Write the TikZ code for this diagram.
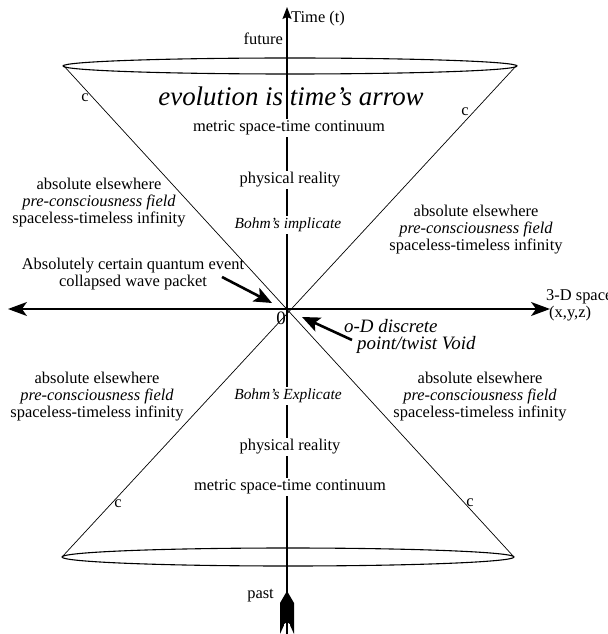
\documentclass[tikz,border=0pt]{standalone}
\usepackage{fontspec}
\setmainfont{Liberation Serif}
\usetikzlibrary{arrows.meta}

\begin{document}
\begin{tikzpicture}[x=1bp, y=-1bp, line join=round,
  every node/.style={inner sep=1pt},
  body/.style={font=\fontsize{16.5}{17}\selectfont},
  gap/.style={fill=white, inner sep=2pt},
  bohm/.style={font=\fontsize{15.5}{17}\selectfont\itshape},
  zone/.style={align=center, font=\fontsize{16.5}{17}\selectfont},
  voidtxt/.style={font=\fontsize{19}{19}\selectfont\itshape, anchor=west, inner sep=0pt},
  pointer/.style={line width=2.6pt, -{Stealth[length=18pt, width=15pt, inset=4pt]}},
  axis/.style={line width=1.6pt},
  cone/.style={line width=0.7pt},
  rim/.style={line width=1.1pt}]
  \useasboundingbox (0,0) rectangle (608,634);

  % Origin and axis ends
  \coordinate (o) at (287,309);
  \coordinate (tTop) at (287,7);
  \coordinate (tBot) at (287,634);
  \coordinate (xL) at (8,309);
  \coordinate (xR) at (550,309);

  % Light cone
  \coordinate (ul) at (63,65);
  \coordinate (ur) at (517,65);
  \coordinate (ll) at (62,557);
  \coordinate (lr) at (514,557);
  \draw[cone] (ul) -- (lr);
  \draw[cone] (ur) -- (ll);
  \draw[rim] (290,66) ellipse [x radius=227, y radius=8];
  \draw[rim] (288,557) ellipse [x radius=226, y radius=9];

  % Axes
  \draw[axis, -{Stealth[length=12pt, width=9pt, inset=2pt]}] (tBot) -- (tTop);
  \draw[axis, {Stealth[length=19pt, width=14pt, inset=5pt]}-{Stealth[length=19pt, width=14pt, inset=5pt]}] (xL) -- (xR);
  % fletching at the foot of the time axis
  \fill (287,591) -- (294,603) -- (294,634) -- (289,623) -- (285,623)
    -- (280,634) -- (280,603) -- cycle;
  \draw[white, line width=0.6pt] (284.5,624) -- (284.5,634) (289.5,624) -- (289.5,634);

  % Axis labels
  \node[body, anchor=west] (time) at (290,19) {Time (t)};
  \node[body, anchor=east] (future) at (284,39) {future};
  \node[body, anchor=east] (past) at (275,596) {past};
  \node[body, anchor=west] (space) at (545,297) {3-D space};
  \node[body, anchor=west] (xyz) at (548,314) {(x,y,z)};
  \node[font=\fontsize{19}{20}\selectfont] (zero) at (281,318) {0};

  % Inside the cone
  \node[font=\fontsize{27}{28}\selectfont\itshape] (evol) at (291,96) {evolution is time's arrow};
  \node[body, gap] (metricU) at (289,128) {metric space-time continuum};
  \node[body, gap] (physU) at (290,180) {physical reality};
  \node[bohm, gap] (implicate) at (288,225) {Bohm's implicate};
  \node[bohm, gap] (explicate) at (288,396) {Bohm's Explicate};
  \node[body, gap] (physL) at (290,447) {physical reality};
  \node[body, gap] (metricL) at (290,487) {metric space-time continuum};

  % Absolute elsewhere
  \node[zone] (elseUL) at (99,203) {absolute elsewhere\\\textit{pre-consciousness field}\\spaceless-timeless infinity};
  \node[zone] (elseUR) at (476,230) {absolute elsewhere\\\textit{pre-consciousness field}\\spaceless-timeless infinity};
  \node[zone] (elseLL) at (97,397) {absolute elsewhere\\\textit{pre-consciousness field}\\spaceless-timeless infinity};
  \node[zone] (elseLR) at (480,397) {absolute elsewhere\\\textit{pre-consciousness field}\\spaceless-timeless infinity};

  % Speed of light marks
  \node[body] (cUL) at (85,98) {c};
  \node[body] (cUR) at (465,112) {c};
  \node[body] (cLL) at (118,504) {c};
  \node[body] (cLR) at (470,503) {c};

  % Pointers to the origin
  \node[zone] (event) at (133,274) {Absolutely certain quantum event\\collapsed wave packet};
  \coordinate (eventTail) at (222,277);
  \coordinate (eventTip) at (272,303);
  \draw[pointer] (eventTail) -- (eventTip);

  \node[voidtxt] (void1) at (344,326) {o-D discrete};
  \node[voidtxt] (void2) at (357,345) {point/twist Void};
  \coordinate (voidTail) at (352,340);
  \coordinate (voidTip) at (302,317);
  \draw[pointer] (voidTail) -- (voidTip);
\end{tikzpicture}
\end{document}
